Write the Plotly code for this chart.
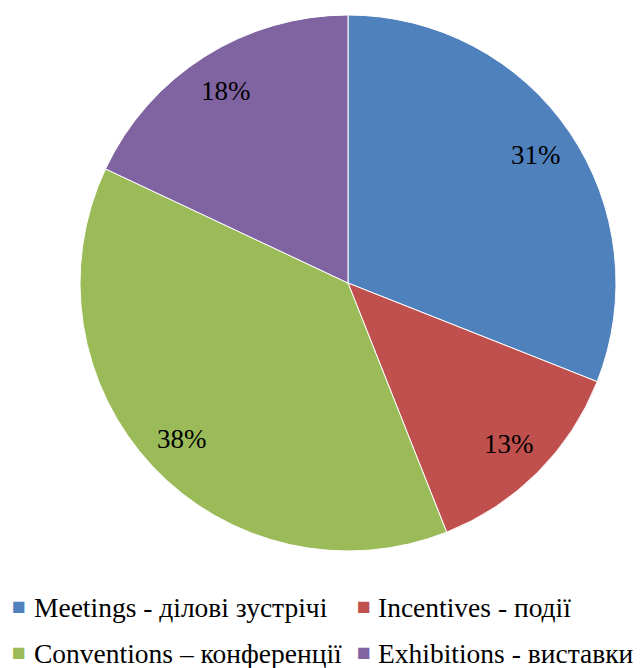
import numpy as np
import plotly.graph_objects as go

labels = ["Meetings - ділові зустрічі", "Incentives - події",
          "Conventions – конференції", "Exhibitions - виставки"]
values = [31, 13, 38, 18]
colors = ["#4F81BD", "#C0504D", "#9BBB59", "#8064A2"]

W, H = 643, 668
cx, cy, r = 340, 275, 268    # pie centre / radius in figure pixels
FONT = "Liberation Serif"

fig = go.Figure(go.Pie(
    labels=labels, values=values, sort=False, direction="clockwise",
    marker=dict(colors=colors, line=dict(color="white", width=1)),
    textinfo="none", showlegend=False,
    domain=dict(x=[(cx - r) / W, (cx + r) / W], y=[(H - cy - r) / H, (H - cy + r) / H]),
    hovertemplate="%{label}: %{percent}<extra></extra>",
))

# percentage labels placed toward the outer part of each slice
vals = np.array(values, dtype=float)
frac = vals / vals.sum()
cum = np.cumsum(frac) - frac / 2
for f, c in zip(frac, cum):
    ang = np.deg2rad(90 - 360 * c)
    px = cx + 0.85 * r * np.cos(ang)
    py = cy - 0.85 * r * np.sin(ang)
    fig.add_annotation(x=px / W, y=1 - py / H, xref="paper", yref="paper",
                       xanchor="center", yanchor="middle",
                       text=f"{round(f * 100)}%", showarrow=False,
                       font=dict(family=FONT, size=27, color="black"))

# legend: two rows, two columns, square swatch + label
marker_x = [11, 356]
text_x = [24, 368]
row_y = [599, 645]
for i, (lab, col) in enumerate(zip(labels, colors)):
    rr, cc = divmod(i, 2)
    fig.add_annotation(x=marker_x[cc] / W, y=1 - (row_y[rr] - 1) / H, xref="paper", yref="paper",
                       xanchor="center", yanchor="middle", showarrow=False,
                       text="■", font=dict(family=FONT, size=23, color=col))
    fig.add_annotation(x=text_x[cc] / W, y=1 - row_y[rr] / H, xref="paper", yref="paper",
                       xanchor="left", yanchor="middle", showarrow=False,
                       text=lab, font=dict(family=FONT, size=27.5, color="black"))

fig.update_layout(
    width=W, height=H, margin=dict(l=0, r=0, t=0, b=0, autoexpand=False),
    paper_bgcolor="white",
    font=dict(family=FONT),
    showlegend=False,
)
fig.write_html("out.html")
